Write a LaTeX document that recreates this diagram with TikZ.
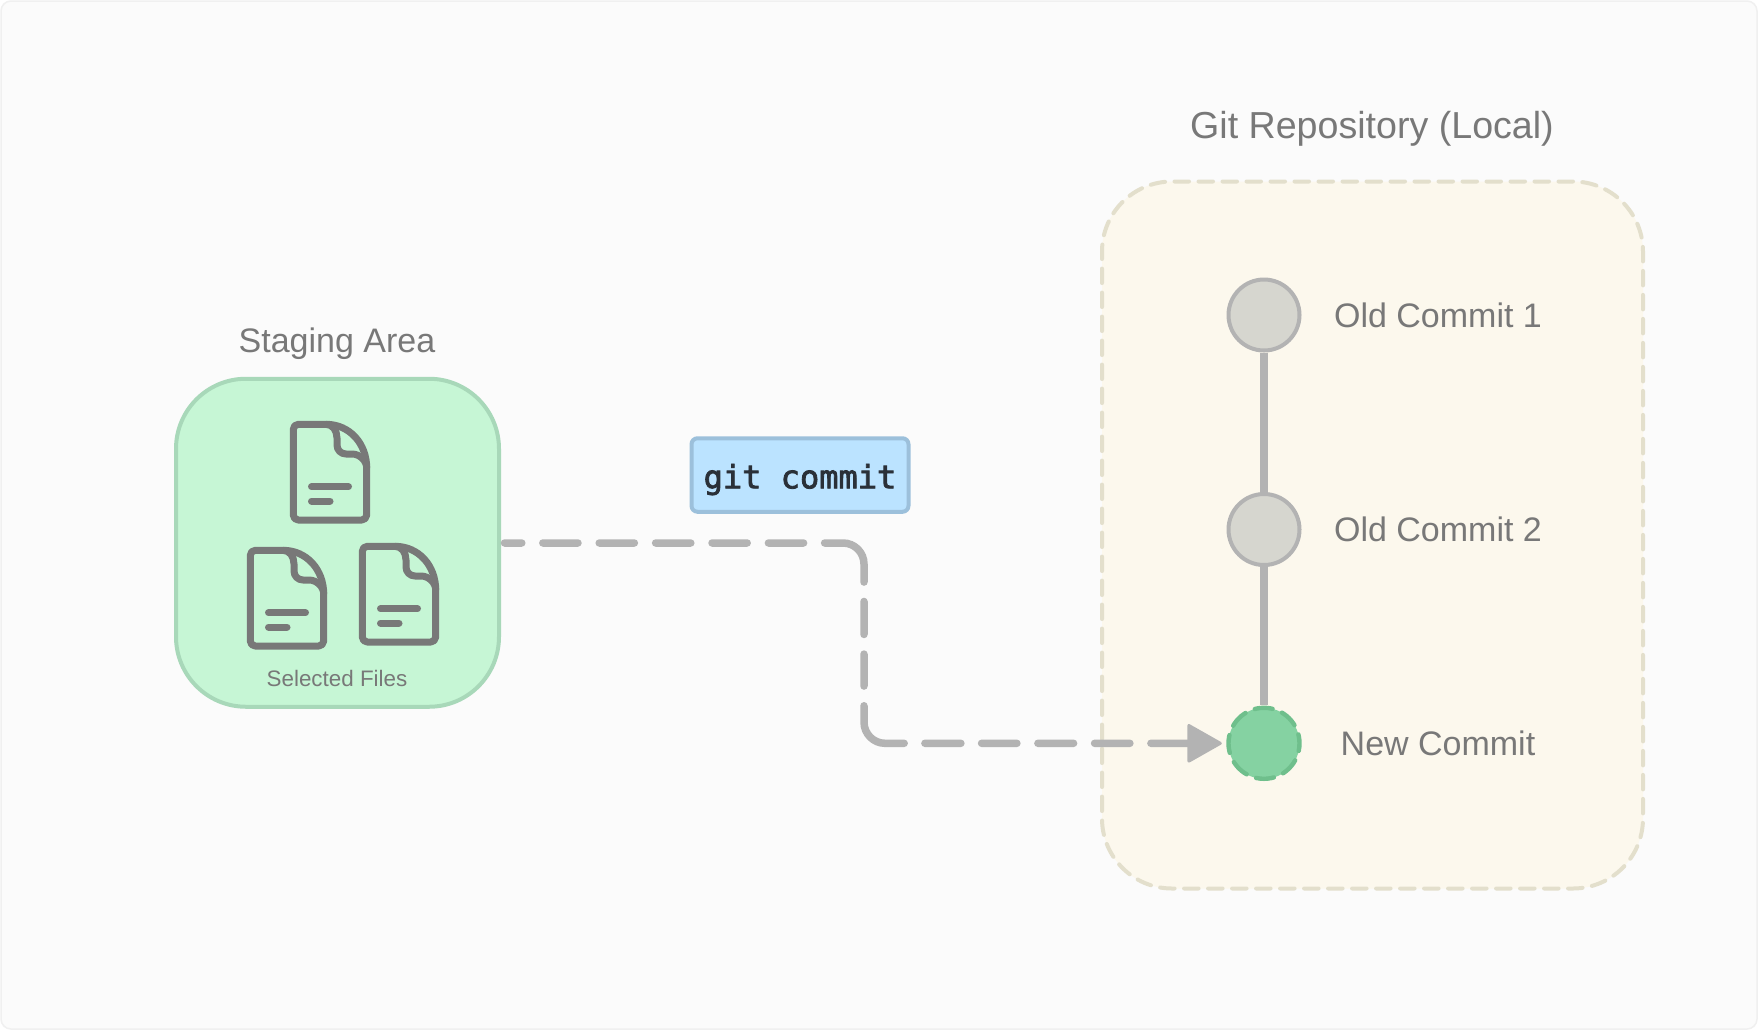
\documentclass[tikz,border=0pt]{standalone}
\usepackage{fontspec}
\setmainfont{Liberation Sans}
\newfontfamily\codefont[FakeBold=2.5]{DejaVu Sans Mono}
\usetikzlibrary{arrows.meta}
\definecolor{xpage}{HTML}{FBFBFB}
\definecolor{xpageline}{HTML}{F0F0F0}
\definecolor{xtext}{HTML}{787878}
\definecolor{xgreen}{HTML}{C6F6D5}
\definecolor{xgreenline}{HTML}{A8D8B9}
\definecolor{xcream}{HTML}{FCF8ED}
\definecolor{xcreamline}{HTML}{E3DFCC}
\definecolor{xblue}{HTML}{BBE3FF}
\definecolor{xblueline}{HTML}{9CC0DB}
\definecolor{xgrey}{HTML}{B3B3B3}
\definecolor{xcommit}{HTML}{D6D6CF}
\definecolor{xnew}{HTML}{85D2A2}
\definecolor{xnewline}{HTML}{6FBF8C}
\definecolor{xcode}{HTML}{2A3038}
\tikzset{
  title/.style = {anchor=base, text=xtext, inner sep=0pt},
  commitlabel/.style = {anchor=base, text=xtext, inner sep=0pt, font=\fontsize{17}{20}\selectfont},
  commit/.style = {circle, draw=xgrey, fill=xcommit, line width=2pt, minimum size=35.5pt, inner sep=0pt},
  newcommit/.style = {circle, draw=xnewline, fill=xnew, line width=2.2pt, minimum size=35.5pt, inner sep=0pt, line cap=round, dash pattern={on 9pt off 5.02pt}, dash phase=4.5pt},
  stem/.style = {xgrey, line width=3.75pt},
  flow/.style = {xgrey, line width=3.75pt, line cap=round, shorten <=1.75pt, shorten >=2.25pt, -{Triangle[length=18pt, width=20pt, line width=1.5pt, round]},
    dash pattern={on 8.65pt off 10.5pt on 17.6pt off 10.6pt on 17.6pt off 10.6pt on 17.6pt off 10.6pt on 17.6pt off 10.6pt on 17.6pt off 10.5pt on 34.7pt off 9.7pt on 16.5pt off 9.8pt on 16pt off 9.85pt on 34.3pt off 10.35pt on 18pt off 10.35pt on 17.65pt off 10.5pt on 17.85pt off 10.5pt on 17.65pt off 10.5pt on 100pt off 10pt}},
  fileline/.style = {xtext, line width=3.5pt, line cap=round, line join=round},
  pics/fileicon/.style = { code={
    \draw[fileline] (36,3.3) .. controls (60,3.3) and (76.7,23) .. (76.7,47) -- (76.7,94) .. controls (76.7,97) and (74,99) .. (71.7,99) -- (8.3,99) .. controls (5.5,99) and (3.3,97) .. (3.3,94) -- (3.3,8.3) .. controls (3.3,5.5) and (5.5,3.3) .. (8.3,3.3) -- cycle;
    \draw[fileline] (36,3.3) .. controls (43,3.3) and (47,10) .. (47,17) -- (47,24) .. controls (47,29) and (51,33) .. (56,33) -- (62,33) .. controls (70,33) and (76.7,40) .. (76.7,47);
    \draw[fileline] (21.5,65.7) -- (58.5,65.7);
    \draw[fileline] (21.5,80) -- (40,80);
  }},
}

\begin{document}
\begin{tikzpicture}[x=0.5pt, y=-0.5pt]
  \useasboundingbox (0,0) rectangle (1758,1030);
  \fill[white] (0,0) rectangle (1758,1030);
  \draw[xpageline, fill=xpage, line width=0.75pt, rounded corners=5pt] (1,1) rectangle (1757,1029);

  % staging side
  \node[draw=xgreenline, fill=xgreen, line width=2pt, rounded corners=35pt, minimum width=161.5pt, minimum height=164pt, inner sep=0pt] (staging) at (337.5,542.75) {};
  \node[title, font=\fontsize{17}{20}\selectfont] (stagingtitle) at (337,352) {Staging Area};
  \node[anchor=base, text=xtext, inner sep=0pt, font=\fontsize{11.2}{14}\selectfont] (selected) at (337,686.5) {Selected Files};
  \pic at (290,421) {fileicon};
  \pic at (247,547) {fileicon};
  \pic at (359,543) {fileicon};

  % repository side
  \node[draw=xcreamline, fill=xcream, line width=2pt, rounded corners=35pt, dash pattern={on 7.25pt off 4.75pt}, line cap=round, minimum width=270.5pt, minimum height=353.5pt, inner sep=0pt] (repo) at (1372.5,535) {};
  \node[title, font=\fontsize{18.8}{22}\selectfont] (repotitle) at (1372,138.5) {Git Repository (Local)};

  \node[commit] (old1) at (1264,315) {};
  \node[commit] (old2) at (1264,529.5) {};
  \node[newcommit] (new) at (1264,743.3) {};
  \draw[stem] (old1) -- (old2);
  \draw[stem, shorten >=0.5pt] (old2) -- (new.north);
  \node[commitlabel] (old1label) at (1438,327) {Old Commit 1};
  \node[commitlabel] (old2label) at (1438,541.5) {Old Commit 2};
  \node[commitlabel] (newlabel) at (1438,755.3) {New Commit};

  % commit step
  \node[draw=xblueline, fill=xblue, line width=2pt, rounded corners=3pt, minimum width=108.5pt, minimum height=36.75pt, inner sep=0pt] (gitcmd) at (800,475) {};
  \node[anchor=base, inner sep=0pt, text=xcode, font=\codefont\fontsize{16}{18}\selectfont] (gitcmdtext) at (800,488.3) {git commit};
  \coordinate (flowstart) at (staging.east |- 0,543);
  \draw[flow] (flowstart) -- (843,543) .. controls (854.6,543) and (864,552.4) .. (864,564) -- (864,722.1) .. controls (864,733.7) and (873.4,743.3) .. (885,743.3) -- (new.west);
\end{tikzpicture}
\end{document}
